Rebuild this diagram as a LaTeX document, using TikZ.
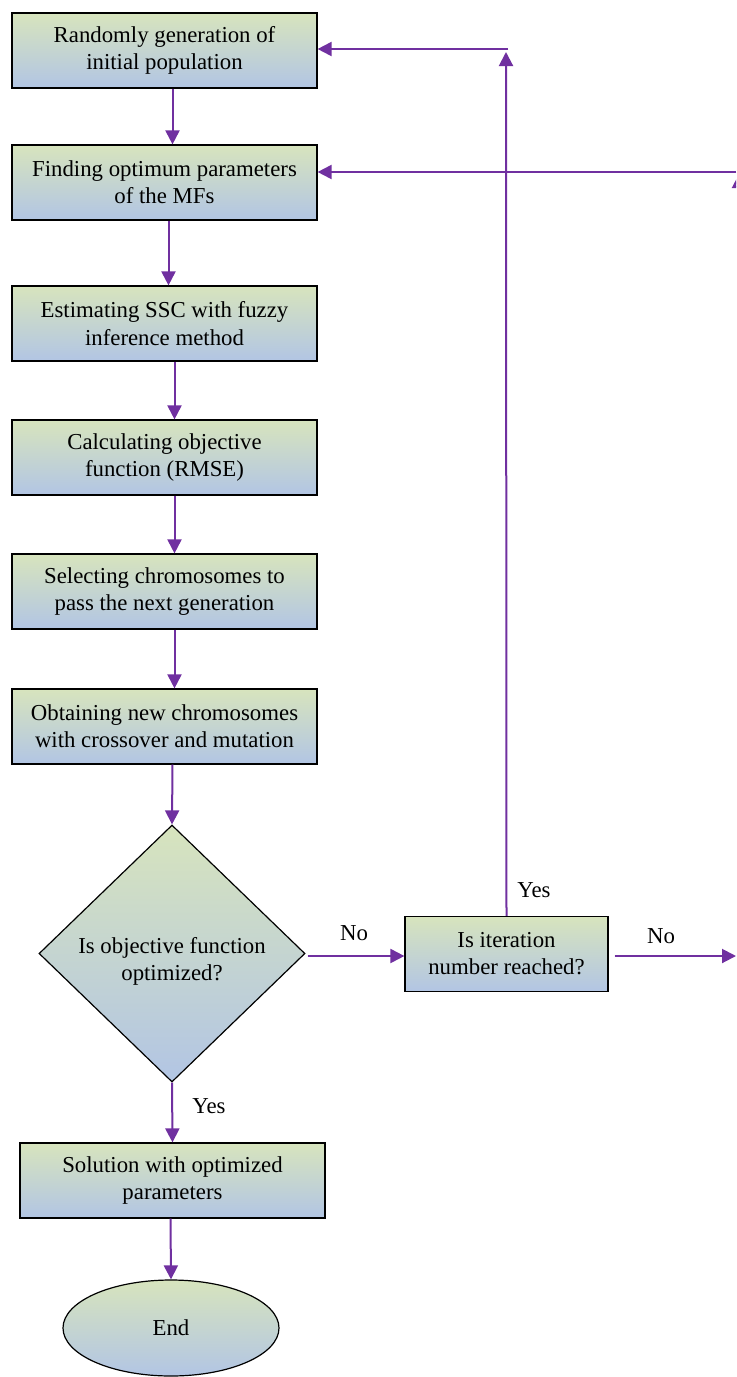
\documentclass[tikz,border=0pt]{standalone}
\usepackage{fontspec}
\setmainfont{Liberation Serif}
\usetikzlibrary{shapes,arrows.meta}
\usetikzlibrary{positioning}

\definecolor{topgreen}{RGB}{215,228,189}
\definecolor{botblue}{RGB}{178,197,228}
\definecolor{arrowpurple}{RGB}{112,48,160}

\begin{document}
\begin{tikzpicture}[x=0.5pt, y=-0.5pt,
    node distance = 30pt,
every node/.style = {inner sep=2pt, font=\fontsize{11.4}{13.6}\selectfont},
    stepbox/.style = {rectangle, draw, line width=0.6pt, align=center,
                      minimum width=152.5pt, minimum height=37.5pt,
                      top color=topgreen, bottom color=botblue},
    flow/.style    = {draw=arrowpurple, line width=1pt,
                      -{Triangle[length=7pt,width=7pt]}, fill=arrowpurple}]
\clip (0,0) rectangle (736,1377);
% main column
\node[stepbox]  (rand)  at (164.5,50.5)  {Randomly generation of\\initial population};
\node[stepbox]  (find)  at (164.5,182.5) {Finding optimum parameters\\of the MFs};
\node[stepbox]  (est)   at (164.5,323.5) {Estimating SSC with fuzzy\\inference method};
\node[stepbox]  (calc)  at (164.5,457.5) {Calculating objective\\function (RMSE)};
\node[stepbox]  (sel)   at (164.5,591.5) {Selecting chromosomes to\\pass the next generation};
\node[stepbox]  (obt)   at (164.5,726.5) {Obtaining new chromosomes\\with crossover and mutation};
\node[diamond, draw, line width=0.6pt, align=center, inner sep=0pt,
      minimum width=133pt, minimum height=128.5pt,
      top color=topgreen, bottom color=botblue]
                (opt)   at (172,953.5)   {\rule{0pt}{16pt}Is objective function\\optimized?};
\node[stepbox, minimum width=101.5pt]
                (iter)  at (506.5,954)   {Is iteration\\number reached?};
\node[stepbox]  (sol)   at (172.5,1180.5) {Solution with optimized\\parameters};
\node[ellipse, draw, line width=0.6pt, minimum width=108pt, minimum height=48pt,
      top color=topgreen, bottom color=botblue]
                (end)   at (171,1328)    {End};
% free ends
\coordinate     (up)    at (506,52);
\coordinate     (upl)   at (508,49);
\coordinate     (rt)    at (736,172);
\coordinate     (rno)   at (736,956);
\coordinate     (rtip0) at (739,210);
\coordinate     (rtip)  at (739,174);
% connectors
    \draw[flow] ([xshift=4pt]rand.south) -- ([xshift=4pt]find.north);
    \draw[flow] ([xshift=2pt]find.south) -- ([xshift=2pt]est.north);
    \draw[flow] ([xshift=5pt]est.south)  -- ([xshift=5pt]calc.north);
    \draw[flow] ([xshift=5pt]calc.south) -- ([xshift=5pt]sel.north);
    \draw[flow] ([xshift=5pt]sel.south)  -- ([xshift=5pt]obt.north);
    \draw[flow] ([xshift=4pt]obt.south)  -- (opt.north);
    \draw[flow] (opt.south) -- (sol.north);
    \draw[flow] ([xshift=-1pt]sol.south) -- (end.north);
    \draw[flow] ([xshift=1pt]opt.east |- rno) -- (iter.west |- rno);
    \draw[flow] ([xshift=3pt]iter.east |- rno) -- (rno);
    \draw[flow] (iter.north) -- (up);
    \draw[flow] (upl) -- (rand.east |- upl);
    \draw[flow] (rt) -- (find.east |- rt);
    \draw[flow] (rtip0) -- (rtip);
% labels
\node (yes1) at (209,1106) {Yes};
\node (no1)  at (354,933)  {No};
\node (no2)  at (661,936)  {No};
\node (yes2) at (534,890)  {Yes};
\end{tikzpicture}
\end{document}
